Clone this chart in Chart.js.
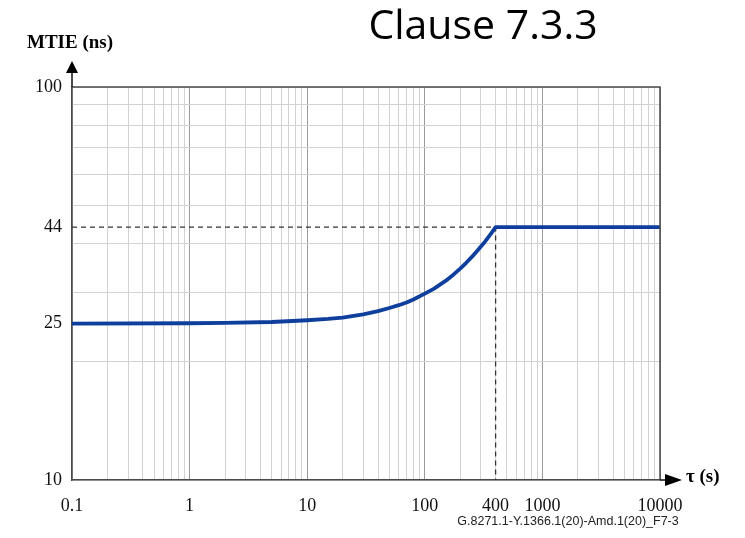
<!DOCTYPE html>
<html lang="en">
<head>
  <meta charset="UTF-8" />
  <title>Clause 7.3.3 MTIE mask</title>
  <style>
    body {
      margin: 0;
      padding: 0;
      background: #ffffff;
    }
    #wrap {
      width: 745px;
      height: 538px;
    }
  </style>
</head>
<body>
  <div id="wrap">
    <canvas id="mtieChart" width="745" height="538"></canvas>
  </div>

  <script src="https://cdn.jsdelivr.net/npm/chart.js"></script>
  <script>
    // values
    const tau = [0.1, 1, 2, 5, 10, 15, 20, 30, 40, 50, 60, 70, 80, 100, 120, 150, 175, 200, 225, 250, 275, 300, 325, 350, 375, 400, 10000];
    const mtie = [25, 25.05, 25.1, 25.24, 25.5, 25.7, 25.9, 26.4, 26.9, 27.4, 27.85, 28.3, 28.8, 29.8, 30.7, 32.1, 33.3, 34.5, 35.7, 36.9, 38.1, 39.3, 40.4, 41.6, 42.8, 44, 44];

    // dashed guide to the 400 s / 44 ns corner
    const guideTau = [0.1, 400, 400];
    const guideMtie = [44, 44, 10];

    const xLabels = [0.1, 1, 10, 100, 400, 1000, 10000];
    const yLabels = [10, 25, 44, 100];
    const yGrid = [10, 20, 30, 40, 50, 60, 70, 80, 90, 100];
    const xDecades = [0.1, 1, 10, 100, 1000];

    const xTicks = [];
    xDecades.forEach(d => {
      for (let m = 1; m <= 9; m++) xTicks.push(+(d * m).toPrecision(6));
    });
    xTicks.push(10000);

    const yTicks = [...new Set([...yGrid, ...yLabels])].sort((a, b) => a - b);

    const near = (list, v) => list.some(l => Math.abs(l - v) / l < 1e-6);

    const toPoints = (xs, ys) => xs.map((x, i) => ({ x: x, y: ys[i] }));

    const frame = {
      id: 'frame',
      afterDatasetsDraw(chart) {
        const { ctx, chartArea: a } = chart;
        ctx.save();
        // top and right border
        ctx.strokeStyle = '#4a4a4a';
        ctx.lineWidth = 1.5;
        ctx.beginPath();
        ctx.moveTo(a.left, a.top);
        ctx.lineTo(a.right, a.top);
        ctx.lineTo(a.right, a.bottom);
        ctx.stroke();

        // axis arrows
        ctx.strokeStyle = '#111';
        ctx.beginPath();
        ctx.moveTo(a.left, a.top);
        ctx.lineTo(a.left, 72);
        ctx.moveTo(a.right, a.bottom);
        ctx.lineTo(666, a.bottom);
        ctx.stroke();
        ctx.fillStyle = '#000';
        ctx.beginPath();
        ctx.moveTo(a.left, 61);
        ctx.lineTo(a.left - 6, 73);
        ctx.lineTo(a.left + 6, 73);
        ctx.closePath();
        ctx.fill();
        ctx.beginPath();
        ctx.moveTo(682, a.bottom);
        ctx.lineTo(665, a.bottom - 6);
        ctx.lineTo(665, a.bottom + 6);
        ctx.closePath();
        ctx.fill();

        // texts
        ctx.fillStyle = '#000';
        ctx.textBaseline = 'alphabetic';
        ctx.font = 'bold 19px "Liberation Serif"';
        ctx.textAlign = 'left';
        ctx.fillText('MTIE (ns)', 27, 48);
        ctx.fillText('\u03c4 (s)', 686, 482);

        ctx.font = '41px "Open Sans"';
        ctx.textAlign = 'center';
        ctx.fillText('Clause 7.3.3', 483, 39);

        ctx.fillStyle = '#222';
        ctx.font = '12.5px "Liberation Sans"';
        ctx.fillText('G.8271.1-Y.1366.1(20)-Amd.1(20)_F7-3', 568, 525);
        ctx.restore();
      }
    };

    new Chart(document.getElementById('mtieChart'), {
      type: 'scatter',
      data: {
        datasets: [
          {
            label: 'MTIE mask',
            data: toPoints(tau, mtie),
            showLine: true,
            borderColor: '#0f3f9c',
            borderWidth: 3.8,
            pointRadius: 0,
            fill: false,
            tension: 0,
            borderJoinStyle: 'round',
            order: 0
          },
          {
            label: 'guide',
            data: toPoints(guideTau, guideMtie),
            showLine: true,
            borderColor: '#333',
            borderWidth: 1.3,
            borderDash: [5, 4],
            pointRadius: 0,
            fill: false,
            order: 1
          }
        ]
      },
      options: {
        responsive: false,
        animation: false,
        layout: { padding: { left: 0, right: 85, top: 87, bottom: 8 } },
        plugins: {
          legend: { display: false },
          tooltip: { enabled: false },
          title: { display: false }
        },
        scales: {
          x: {
            type: 'logarithmic',
            min: 0.1,
            max: 10000,
            afterBuildTicks: s => { s.ticks = xTicks.map(v => ({ value: v })); },
            afterFit: s => { s.height = 50; },
            border: { color: '#4a4a4a', width: 1.5 },
            grid: {
              drawTicks: false,
              lineWidth: 1,
              color: c => (c.tick && near(xDecades.concat([10000]), c.tick.value)) ? '#9a9a9a' : '#d2d2d2'
            },
            ticks: {
              autoSkip: false,
              maxRotation: 0,
              padding: 15,
              color: '#111',
              font: { family: '"Liberation Serif"', size: 18 },
              callback: v => near(xLabels, v) ? String(xLabels.find(l => Math.abs(l - v) / l < 1e-6)) : ''
            }
          },
          y: {
            type: 'logarithmic',
            min: 10,
            max: 100,
            afterBuildTicks: s => { s.ticks = yTicks.map(v => ({ value: v })); },
            afterFit: s => { s.width = 72; },
            border: { color: '#4a4a4a', width: 1.5 },
            grid: {
              drawTicks: false,
              lineWidth: 1,
              color: c => (c.tick && near(yGrid, c.tick.value)) ? '#d2d2d2' : 'rgba(0,0,0,0)'
            },
            ticks: {
              autoSkip: false,
              padding: 10,
              color: '#111',
              font: { family: '"Liberation Serif"', size: 18 },
              callback: v => near(yLabels, v) ? String(v) : ''
            }
          }
        }
      },
      plugins: [frame]
    });
  </script>
</body>
</html>
